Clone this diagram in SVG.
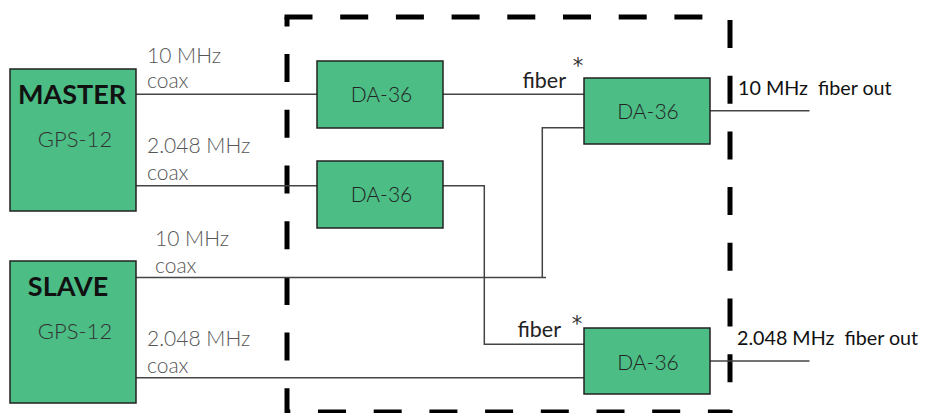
<svg xmlns="http://www.w3.org/2000/svg" width="926" height="413" viewBox="0 0 926 413">
<style>
.box{fill:#4BBD85;stroke:#222;stroke-width:1.5}
.title{font-family:Lato,"Liberation Sans",sans-serif;font-weight:bold;font-size:27px;fill:#111;text-anchor:middle}
.sub{font-family:Lato,"Liberation Sans",sans-serif;font-weight:300;font-size:22px;fill:#333;text-anchor:middle}
.da{font-family:Lato,"Liberation Sans",sans-serif;font-weight:300;font-size:21px;fill:#222;text-anchor:middle}
.lbl{font-family:Lato,"Liberation Sans",sans-serif;font-weight:300;font-size:21px;fill:#555}
.fib{font-family:Lato,"Liberation Sans",sans-serif;font-size:21.5px;fill:#222;text-anchor:end}
.star{font-family:"DejaVu Sans",sans-serif;font-size:21px;fill:#333;text-anchor:middle}
.out{font-family:Lato,"Liberation Sans",sans-serif;font-size:19.7px;fill:#111;white-space:pre}
.wire{fill:none;stroke:#444;stroke-width:1.5}
.dash{stroke:#000;stroke-width:5;stroke-dasharray:28 27.7;fill:none}
</style>
<g id="enclosure">
<line class="dash" x1="284.5" y1="17" x2="730" y2="17"/>
<line class="dash" x1="730" y1="20" x2="730" y2="414"/>
<line class="dash" x1="287" y1="412" x2="730" y2="412" stroke-dashoffset="24.7"/>
<line class="dash" x1="287" y1="17" x2="287" y2="414" stroke-dashoffset="18.6"/>
</g>
<g id="connectors">
<path class="wire" d="M136 94.3H317"/>
<path class="wire" d="M136 185.7H317"/>
<path class="wire" d="M443 94.3H584"/>
<path class="wire" d="M443 185.7H484.3V344.3H584"/>
<path class="wire" d="M136 277.5H546"/>
<path class="wire" d="M584 127.7H542.3V277.5"/>
<path class="wire" d="M136 377.7H584"/>
<path class="wire" d="M710 110.7H809.5"/>
<path class="wire" d="M710 361H809.5"/>
</g>
<g id="labels">
<text class="lbl" x="147" y="63">10 MHz</text>
<text class="lbl" x="147" y="88">coax</text>
<text class="lbl" x="147" y="153">2.048 MHz</text>
<text class="lbl" x="147" y="180">coax</text>
<text class="lbl" x="155" y="246">10 MHz</text>
<text class="lbl" x="155" y="273">coax</text>
<text class="lbl" x="147" y="346">2.048 MHz</text>
<text class="lbl" x="147" y="373">coax</text>
<text class="fib" x="566" y="88">fiber</text>
<text class="star" x="578" y="73">*</text>
<text class="fib" x="561" y="337">fiber</text>
<text class="star" x="577" y="331">*</text>
<text class="out" x="738" y="95">10 MHz  fiber out</text>
<text class="out" x="737" y="345">2.048 MHz  fiber out</text>
</g>
<g id="master">
<rect class="box" x="10" y="69" width="126" height="142"/>
<text class="title" x="72" y="104">MASTER</text>
<text class="sub" x="75" y="147">GPS-12</text>
</g>
<g id="slave">
<rect class="box" x="10" y="261" width="126" height="142"/>
<text class="title" x="68" y="296">SLAVE</text>
<text class="sub" x="75" y="339">GPS-12</text>
</g>
<g id="da1">
<rect class="box" x="317" y="61" width="126" height="67"/>
<text class="da" x="381.5" y="102">DA-36</text>
</g>
<g id="da2">
<rect class="box" x="317" y="161" width="126" height="67"/>
<text class="da" x="381.5" y="202">DA-36</text>
</g>
<g id="da3">
<rect class="box" x="584" y="78" width="126" height="66"/>
<text class="da" x="648" y="118.5">DA-36</text>
</g>
<g id="da4">
<rect class="box" x="584" y="328" width="126" height="66"/>
<text class="da" x="648" y="369.5">DA-36</text>
</g>
</svg>
